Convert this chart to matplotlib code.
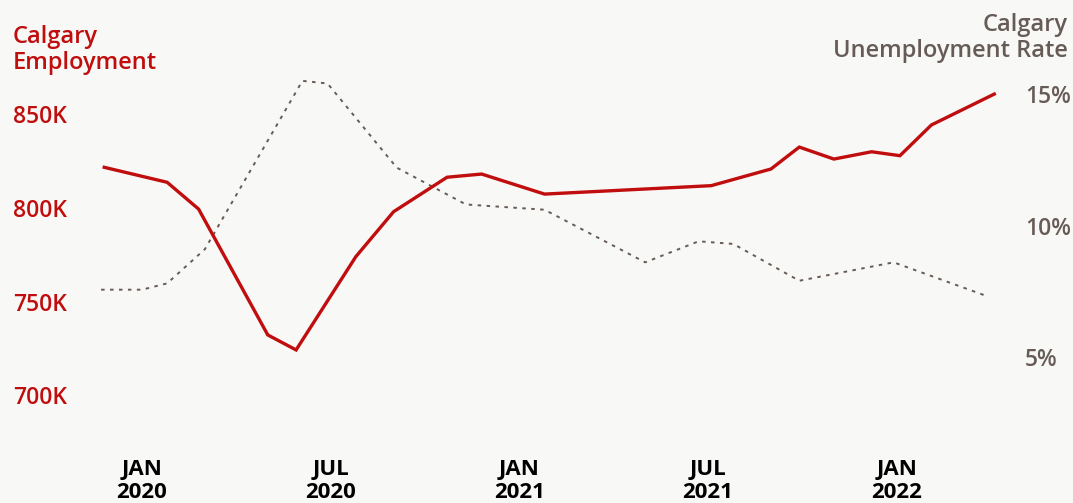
import matplotlib.pyplot as plt

# months since Jan 2020
emp_month = [-1.2, 0.8, 1.8, 4.0, 4.9, 6.8, 8.0, 9.7, 10.8, 12.8, 18.1, 20.0, 20.9, 22.0, 23.2, 24.1, 25.1, 27.1]
emp_k = [821.7, 813.7, 799.4, 732.2, 724.2, 774.0, 798.0, 816.4, 818.1, 807.4, 811.9, 820.8, 832.5, 826.1, 830.0, 827.9, 844.3, 860.8]

rate_month = [-1.3, 0.0, 0.8, 2.0, 5.1, 5.9, 8.1, 10.3, 12.8, 16.0, 17.7, 18.8, 20.9, 23.9, 26.9]
rate_pct = [7.56, 7.56, 7.8, 9.1, 15.5, 15.4, 12.2, 10.8, 10.6, 8.6, 9.4, 9.3, 7.9, 8.6, 7.3]

x_ticks = [0, 6, 12, 18, 24]
x_labels = ['JAN\n2020', 'JUL\n2020', 'JAN\n2021', 'JUL\n2021', 'JAN\n2022']
emp_ticks = [700, 750, 800, 850]
emp_labels = ['700K', '750K', '800K', '850K']
rate_ticks = [5, 10, 15]
rate_labels = ['5%', '10%', '15%']

RED = '#c00d0d'
GREY = '#675b57'
BG = '#f8f8f6'

plt.rcParams['font.family'] = ['Open Sans', 'DejaVu Sans']

W, H = 1073, 503
fig = plt.figure(figsize=(W / 100, H / 100), dpi=100, facecolor=BG)
ax = fig.add_axes([90 / W, (H - 420) / H, 920 / W, 360 / H])
ax.set_facecolor(BG)
ax2 = ax.twinx()

ax.plot(emp_month, emp_k, color=RED, lw=2.4, solid_joinstyle='miter', zorder=3)
ax2.plot(rate_month, rate_pct, color=GREY, lw=1.4, linestyle=(0, (1.8, 2.8)))
ax.set_zorder(ax2.get_zorder() + 1)
ax.patch.set_visible(False)
ax2.patch.set_visible(True)
ax2.patch.set_facecolor(BG)

ax.set_xlim(-1.653, 27.6)
ax.set_ylim(686.79, 878.99)
ax2.set_ylim(2.605, 16.293)

for a in (ax, ax2):
    for s in a.spines.values():
        s.set_visible(False)

ax.set_xticks(x_ticks)
ax.set_xticklabels(x_labels, fontsize=16, fontweight='bold', color='black', linespacing=1.15)
ax.tick_params(axis='x', length=0, pad=28)

ax.set_yticks(emp_ticks)
ax.set_yticklabels(emp_labels, fontsize=16.5, fontweight='semibold', color=RED)
ax.tick_params(axis='y', length=0, pad=55.4)
for t in ax.get_yticklabels():
    t.set_horizontalalignment('left')

ax2.set_yticks(rate_ticks)
ax2.set_yticklabels(rate_labels, fontsize=16.5, fontweight='semibold', color=GREY)
ax2.tick_params(axis='y', length=0, pad=10.8)

fig.text(13 / W, 1 - 50 / H, 'Calgary\nEmployment', color=RED, fontsize=17,
         fontweight='semibold', ha='left', va='center', linespacing=1.12)
fig.text(1068 / W, 1 - 38 / H, 'Calgary\nUnemployment Rate', color=GREY, fontsize=17,
         fontweight='semibold', ha='right', va='center', linespacing=1.12)

fig.savefig('out.png', dpi=100, facecolor=BG)
